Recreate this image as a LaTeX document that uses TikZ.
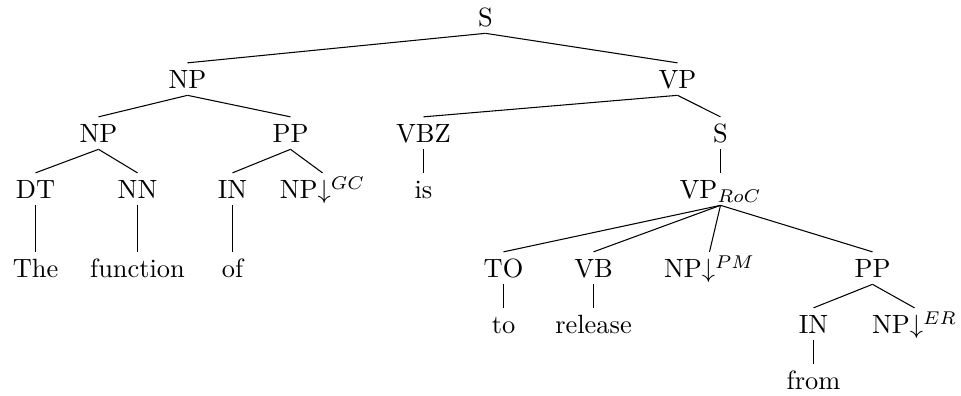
\documentclass[tikz,border=0pt]{standalone}
\usetikzlibrary{arrows.meta}

\begin{document}
\begin{tikzpicture}[
    x=0.3788pt, y=-0.3788pt,
    every node/.style={
        anchor=base,
        inner sep=2.2pt,
        text height=7.5pt,
        text depth=0pt,
        font=\normalsize
    },
    branch/.style={thin, color=black}
]

    \useasboundingbox (-0.5,0) rectangle (960.5,396);

    % level 0 and 1
    \node (s) at (485,27) {S};
    \node (np) at (187,89) {NP};
    \node (vp) at (677,89) {VP};

    % level 2
    \node (npa) at (98,143) {NP};
    \node (ppa) at (290,143) {PP};
    \node (vbz) at (423,143) {VBZ};
    \node (sb) at (720,143) {S};

    % level 3
    \node (dt) at (35,199) {DT};
    \node (nn) at (137,199) {NN};
    \node (ina) at (232,199) {IN};
    \node (npgc) at (322,199) {NP$\downarrow^{GC}$};
    \node (is) at (423,199) {is};
    \node (vproc) at (720,199) {VP$_{RoC}$};

    % level 4
    \node (the) at (35,278) {The};
    \node (func) at (137,278) {function};
    \node (of) at (232,278) {of};
    \node (to) at (503,278) {TO};
    \node (vb) at (593,278) {VB};
    \node (nppm) at (709,278) {NP$\downarrow^{PM}$};
    \node (ppb) at (872,278) {PP};

    % level 5 and 6
    \node (tow) at (503,334) {to};
    \node (rel) at (593,334) {release};
    \node (inb) at (813,334) {IN};
    \node (nper) at (914,334) {NP$\downarrow^{ER}$};
    \node (from) at (813,390) {from};

    \draw[branch] (s.south) -- (np.north);
    \draw[branch] (s.south) -- (vp.north);
    \draw[branch] (np.south) -- (npa.north);
    \draw[branch] (np.south) -- (ppa.north);
    \draw[branch] (npa.south) -- (dt.north);
    \draw[branch] (npa.south) -- (nn.north);
    \draw[branch] (dt.south) -- (the.north);
    \draw[branch] (nn.south) -- (func.north);
    \draw[branch] (ppa.south) -- (ina.north);
    \draw[branch] (ppa.south) -- (npgc.north);
    \draw[branch] (ina.south) -- (of.north);
    \draw[branch] (vp.south) -- (vbz.north);
    \draw[branch] (vp.south) -- (sb.north);
    \draw[branch] (vbz.south) -- (is.north);
    \draw[branch] (sb.south) -- (vproc.north);
    \draw[branch] (vproc.south) -- (to.north);
    \draw[branch] (vproc.south) -- (vb.north);
    \draw[branch] (vproc.south) -- (nppm.north);
    \draw[branch] (vproc.south) -- (ppb.north);
    \draw[branch] (to.south) -- (tow.north);
    \draw[branch] (vb.south) -- (rel.north);
    \draw[branch] (ppb.south) -- (inb.north);
    \draw[branch] (ppb.south) -- (nper.north);
    \draw[branch] (inb.south) -- (from.north);

\end{tikzpicture}
\end{document}
